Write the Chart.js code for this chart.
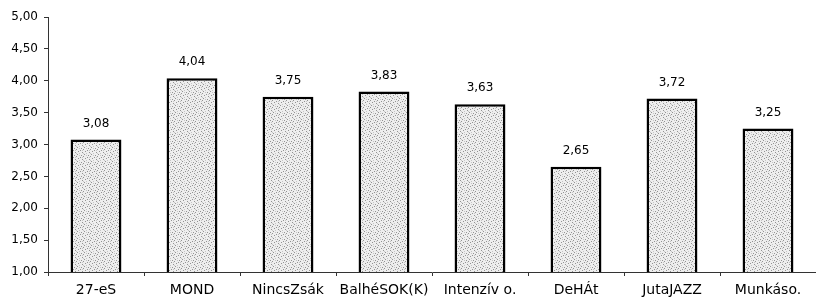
<!DOCTYPE html>
<html>
<head>
<meta charset="utf-8">
<script src="https://cdn.jsdelivr.net/npm/chart.js@4"></script>
<style>
  html, body { margin: 0; padding: 0; background: #fff; }
  #wrap { width: 816px; height: 299px; }
</style>
</head>
<body>
<div id="wrap"><canvas id="myChart"></canvas></div>
<script>
// adatok
const categories = ['27-eS', 'MOND', 'NincsZsák', 'BalhéSOK(K)', 'Intenzív o.', 'DeHÁt', 'JutaJAZZ', 'Munkáso.'];
const values = [3.08, 4.04, 3.75, 3.83, 3.63, 2.65, 3.72, 3.25];
const yMin = 1, yMax = 5, yStep = 0.5;

const fmt = v => v.toFixed(2).replace('.', ',');

// pontozott kitöltés (mint a nyomtatott ábrán)
function makeStipple() {
    const c = document.createElement('canvas');
    c.width = 7; c.height = 7;
    const g = c.getContext('2d');
    g.fillStyle = '#eeeeee';
    g.fillRect(0, 0, 7, 7);
    g.fillStyle = '#939393';
    [[0, 0], [4, 1], [1, 4], [5, 5], [3, 3], [6, 2]].forEach(p => g.fillRect(p[0], p[1], 1, 1));
    g.fillStyle = '#c6c6c6';
    [[2, 6], [6, 6], [2, 1], [5, 3]].forEach(p => g.fillRect(p[0], p[1], 1, 1));
    return g.createPattern(c, 'repeat');
}

// értékek a oszlopok fölött
const valueLabels = {
    id: 'valueLabels',
    afterDatasetsDraw(chart) {
        const ctx = chart.ctx;
        const meta = chart.getDatasetMeta(0);
        ctx.save();
        ctx.font = '12px "DejaVu Sans"';
        ctx.fillStyle = '#000';
        ctx.textAlign = 'center';
        ctx.textBaseline = 'middle';
        meta.data.forEach((bar, i) => {
            ctx.fillText(fmt(values[i]), bar.x, bar.y - 16);
        });
        ctx.restore();
    }
};

const ctx = document.getElementById('myChart').getContext('2d');
const chart = new Chart(ctx, {
    type: 'bar',
    data: {
        labels: categories,
        datasets: [{
            data: values,
            backgroundColor: makeStipple(),
            borderColor: '#000',
            borderWidth: 2.5,
            borderSkipped: false,
            barPercentage: 0.53,
            categoryPercentage: 1
        }]
    },
    options: {
        responsive: true,
        maintainAspectRatio: false,
        animation: false,
        layout: { padding: { top: 17, right: 0, bottom: 0, left: 0 } },
        plugins: {
            legend: { display: false },
            tooltip: { enabled: false }
        },
        scales: {
            x: {
                afterFit: scale => { scale.height = 27; },
                grid: { drawOnChartArea: false, drawTicks: true, tickLength: 4, color: '#333' },
                border: { display: true, color: '#333', width: 1 },
                ticks: { color: '#000', font: { family: 'DejaVu Sans', size: 14 }, padding: 6, maxRotation: 0 }
            },
            y: {
                min: yMin,
                max: yMax,
                afterFit: scale => { scale.width = 48; },
                grid: { drawOnChartArea: false, drawTicks: true, tickLength: 4, color: '#333' },
                border: { display: true, color: '#333', width: 1 },
                ticks: {
                    stepSize: yStep,
                    color: '#000',
                    padding: 6,
                    font: { family: 'DejaVu Sans', size: 12 },
                    callback: v => fmt(v)
                }
            }
        }
    },
    plugins: [valueLabels]
});
</script>
</body>
</html>
